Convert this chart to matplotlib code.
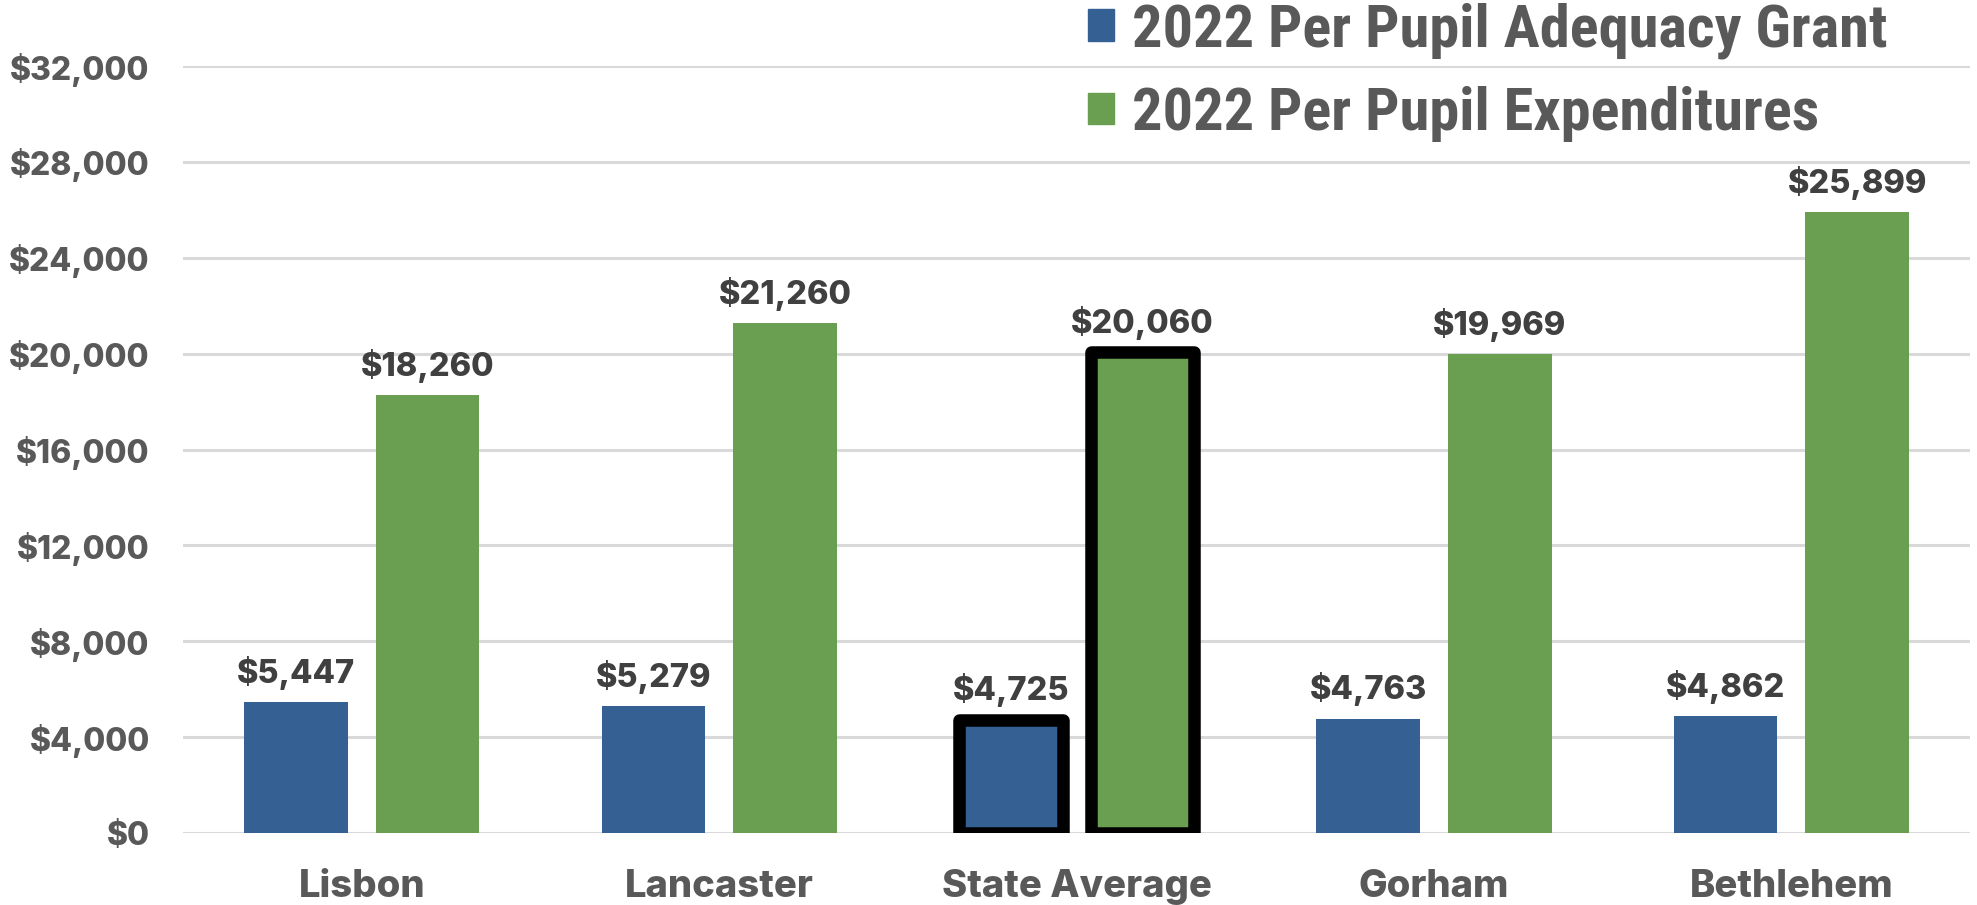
import matplotlib
matplotlib.use("Agg")
import matplotlib.pyplot as plt
from matplotlib.ticker import FuncFormatter
from matplotlib.patches import Patch
import numpy as np

# data
towns = ["Lisbon", "Lancaster", "State Average", "Gorham", "Bethlehem"]
adequacy_grant = [5447, 5279, 4725, 4763, 4862]
expenditures = [18260, 21260, 20060, 19969, 25899]
series_names = ["2022 Per Pupil Adequacy Grant", "2022 Per Pupil Expenditures"]
y_ticks = [0, 4000, 8000, 12000, 16000, 20000, 24000, 28000, 32000]
highlight = "State Average"

blue = "#356094"
green = "#6a9e50"
tick_grey = "#595959"
label_grey = "#404040"

fig = plt.figure(figsize=(19.77, 9.05), dpi=100)
ax = fig.add_axes([0.0926, 0.0796, 0.9039, 0.8474])

x = np.arange(len(towns))
w = 0.29
off = 0.184
bars_a = ax.bar(x - off, adequacy_grant, w, color=blue, zorder=3)
bars_e = ax.bar(x + off, expenditures, w, color=green, zorder=3)

# thick black outline on the state average pair
for bars in (bars_a, bars_e):
    b = bars[towns.index(highlight)]
    b.set_edgecolor("black")
    b.set_linewidth(9)
    b.set_joinstyle("round")

for bars in (bars_a, bars_e):
    for b in bars:
        ax.annotate(f"${b.get_height():,.0f}",
                    (b.get_x() + b.get_width() / 2, b.get_height()),
                    xytext=(0, 14), textcoords="offset points",
                    ha="center", va="baseline", fontsize=23.5,
                    fontweight=800, family="Inter", color=label_grey)

ax.set_xlim(-0.5, len(towns) - 0.5)
ax.set_ylim(0, 32000)
ax.set_yticks(y_ticks)
ax.yaxis.set_major_formatter(FuncFormatter(lambda v, p: f"${v:,.0f}"))
ax.set_xticks(x)
ax.set_xticklabels(towns)
ax.tick_params(axis="y", length=0, pad=24, labelsize=23, labelcolor=tick_grey)
ax.tick_params(axis="x", length=0, pad=26, labelsize=27.5, labelcolor=tick_grey)
for lab in ax.get_xticklabels() + ax.get_yticklabels():
    lab.set_fontfamily("Inter")
    lab.set_fontweight(800)

ax.grid(axis="y", color="#d9d9d9", linewidth=2.2, zorder=0)
ax.set_axisbelow(True)
for s in ax.spines.values():
    s.set_visible(False)

handles = [Patch(color=blue), Patch(color=green)]
ax.legend(handles, series_names, loc="upper left",
          bbox_to_anchor=(1064 / 1977, 1.024), bbox_transform=fig.transFigure,
          frameon=False, handlelength=0.42, handleheight=0.42,
          handletextpad=0.3, labelspacing=0.45, borderaxespad=0,
          prop={"family": ["Roboto Condensed", "Roboto"], "weight": 900, "size": 43.5},
          labelcolor=tick_grey)

fig.savefig("out.png", dpi=100)
